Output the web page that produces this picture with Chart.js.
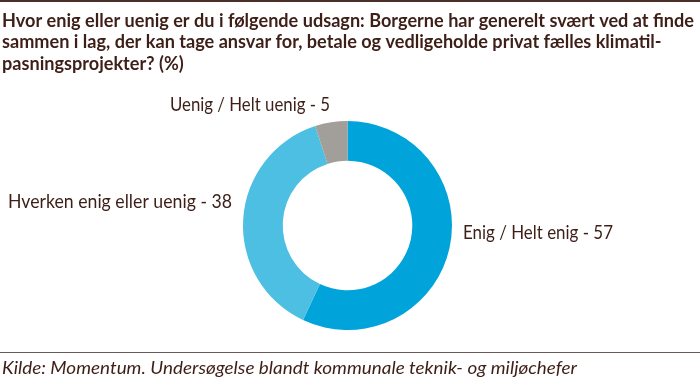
<!DOCTYPE html>
<html>
<head>
<meta charset="utf-8">
<script src="https://cdn.jsdelivr.net/npm/chart.js@4"></script>
<style>
  html, body { margin: 0; padding: 0; background: #fff; }
  #wrap { width: 700px; height: 379px; position: relative; }
</style>
</head>
<body>
<div id="wrap"><canvas id="myChart" width="700" height="379"></canvas></div>
<script>
// Data
const categories = ['Enig / Helt enig', 'Hverken enig eller uenig', 'Uenig / Helt uenig'];
const values = [57, 38, 5];
const colors = ['#00a4da', '#4cbfe3', '#a29e9a'];

const titleLines = [
    'Hvor enig eller uenig er du i følgende udsagn: Borgerne har generelt svært ved at finde',
    'sammen i lag, der kan tage ansvar for, betale og vedligeholde privat fælles klimatil-',
    'pasningsprojekter? (%)'
];
const source = 'Kilde: Momentum. Undersøgelse blandt kommunale teknik- og miljøchefer';

const textColor = '#3d1f18';
const ruleColor = '#6b5a55';

// tekst skaleret vandret til en given bredde
function fitText(ctx, text, x, y, width, align) {
    const w = ctx.measureText(text).width;
    const sx = width / w;
    ctx.save();
    ctx.translate(x, y);
    ctx.scale(sx, 1);
    ctx.textAlign = align;
    ctx.fillText(text, 0, 0);
    ctx.restore();
}

const decorations = {
    id: 'decorations',
    afterDraw(chart) {
        const ctx = chart.ctx;
        ctx.save();
        ctx.textBaseline = 'alphabetic';

        // top rule
        ctx.fillStyle = '#4a2e28';
        ctx.fillRect(0, 0, 700, 2);

        // title
        ctx.fillStyle = textColor;
        ctx.font = 'bold 19px Lato';
        const sx = 692 / ctx.measureText(titleLines[0]).width;
        titleLines.forEach((line, i) => {
            ctx.save();
            ctx.translate(2, 26.5 + i * 21.7);
            ctx.scale(sx, 1);
            ctx.textAlign = 'left';
            ctx.fillText(line, 0, 0);
            ctx.restore();
        });

        // labels around the ring
        const arcs = chart.getDatasetMeta(0).data;
        const cx = arcs[0].x, cy = arcs[0].y, R = arcs[0].outerRadius;
        const place = [
            { x: cx + R + 11, y: cy + 13.5, align: 'left', w: 150 },
            { x: cx - R - 11, y: cy - 17.5, align: 'right', w: 224 },
            { x: cx - 17.5, y: cy - R - 10, align: 'right', w: 160 }
        ];
        ctx.font = '18.5px Lato';
        categories.forEach((c, i) => {
            const p = place[i];
            fitText(ctx, c + ' - ' + values[i], p.x, p.y, p.w, p.align);
        });

        // bottom rule and source
        ctx.fillStyle = ruleColor;
        ctx.fillRect(0, 352, 700, 1);
        ctx.fillStyle = textColor;
        ctx.font = 'italic 17.5px Lato';
        fitText(ctx, source, 2, 374, 575, 'left');
        ctx.restore();
    }
};

document.fonts.load('bold 19px Lato').then(() => document.fonts.load('18.5px Lato'))
    .then(() => document.fonts.load('italic 17.5px Lato'))
    .catch(() => {})
    .then(() => {
        const ctx = document.getElementById('myChart');
        new Chart(ctx, {
            type: 'doughnut',
            data: {
                labels: categories,
                datasets: [{
                    data: values,
                    backgroundColor: colors,
                    borderWidth: 0
                }]
            },
            options: {
                responsive: false,
                animation: false,
                cutout: '62%',
                layout: { padding: { top: 121, bottom: 49, left: 0, right: 5 } },
                plugins: {
                    legend: { display: false },
                    tooltip: { enabled: false }
                }
            },
            plugins: [decorations]
        });
    });
</script>
</body>
</html>
